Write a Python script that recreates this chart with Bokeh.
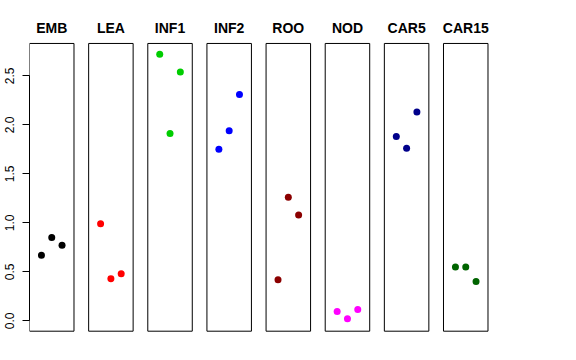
import numpy as np
from bokeh.plotting import figure
from bokeh.models import ColumnDataSource, Range1d, LinearAxis, FixedTicker
from bokeh.core.properties import value
from bokeh.embed import file_html
from bokeh.resources import INLINE

# ---- data ----
tissues = ["EMB", "LEA", "INF1", "INF2", "ROO", "NOD", "CAR5", "CAR15"]
emb = [0.67, 0.85, 0.77]
lea = [0.99, 0.43, 0.48]
inf1 = [2.72, 1.91, 2.54]
inf2 = [1.75, 1.94, 2.31]
roo = [0.42, 1.26, 1.08]
nod = [0.095, 0.02, 0.115]
car5 = [1.88, 1.76, 2.13]
car15 = [0.55, 0.55, 0.40]
series = [emb, lea, inf1, inf2, roo, nod, car5, car15]
colors = ["black", "red", "#00CD00", "blue", "#8B0000", "magenta", "#00008B", "#006400"]
y_ticks = [0.0, 0.5, 1.0, 1.5, 2.0, 2.5]
y_tick_labels = ["0.0", "0.5", "1.0", "1.5", "2.0", "2.5"]

# ---- layout (R-like panel limits) ----
XLIM = (-0.16, 4.16)
YLIM = (-0.106, 2.83)
STEP = 5.742
PX_X = 10.3
PX_Y = 98.0
L = 29
W, H = 560, 344
frame_w = W - L
Y0_PX = 320.3
y_hi = Y0_PX / PX_Y
y_lo = -(H - Y0_PX) / PX_Y
title_y = 2.99

p = figure(width=W, height=H, min_border_left=L, min_border_right=0,
           min_border_top=0, min_border_bottom=0,
           x_range=Range1d(XLIM[0], XLIM[0] + frame_w / PX_X),
           y_range=Range1d(y_lo, y_hi),
           x_axis_type=None, y_axis_type=None,
           output_backend="svg", toolbar_location=None)
p.outline_line_color = None
p.xgrid.visible = False
p.ygrid.visible = False
p.background_fill_color = "white"
p.border_fill_color = "white"

# boxes
offsets = [i * STEP for i in range(len(tissues))]
box_src = ColumnDataSource(dict(
    left=[o + XLIM[0] for o in offsets],
    right=[o + XLIM[1] for o in offsets],
    bottom=[YLIM[0]] * len(tissues),
    top=[YLIM[1]] * len(tissues),
))
p.quad(left="left", right="right", bottom="bottom", top="top", source=box_src,
       fill_color=None, line_color="black", line_width=1)

# points
xs, ys, cs = [], [], []
for i, vals in enumerate(series):
    for j, v in enumerate(vals):
        xs.append(offsets[i] + j + 1)
        ys.append(v)
        cs.append(colors[i])
p.scatter(x=xs, y=ys, color=cs, size=7, line_width=0)

# titles
p.text(x=[o + 2 for o in offsets], y=[title_y] * len(tissues), text=tissues,
       text_font=value("Liberation Sans"), text_font_style="bold",
       text_font_size="14px", text_align="center", text_baseline="alphabetic",
       text_color="black")

# y axis
ax = LinearAxis(ticker=FixedTicker(ticks=y_ticks), bounds=(0, 2.5))
ax.major_label_overrides = {t: l for t, l in zip(y_ticks, y_tick_labels)}
ax.major_label_orientation = "vertical"
ax.major_label_text_font = "Liberation Sans"
ax.major_label_text_font_size = "12px"
ax.major_label_text_color = "black"
ax.major_tick_out = 7
ax.major_tick_in = 0
ax.minor_tick_out = 0
ax.minor_tick_in = 0
ax.major_label_standoff = 8
ax.axis_line_color = "black"
ax.major_tick_line_color = "black"
p.add_layout(ax, "left")

open("out.html", "w").write(file_html(p, INLINE))
